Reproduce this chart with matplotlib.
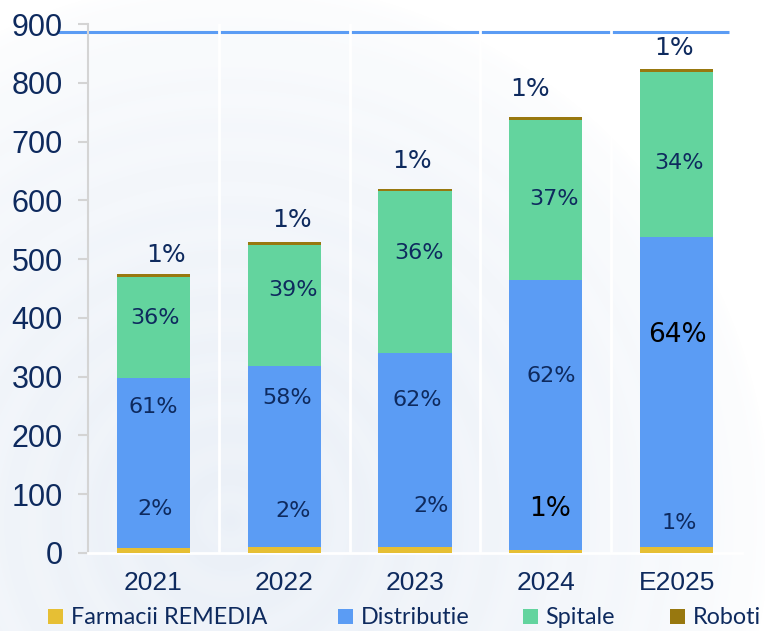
import numpy as np
import matplotlib
matplotlib.use("Agg")
import matplotlib.pyplot as plt
from matplotlib.patches import Patch

# ---------------- data ----------------
categories = ["2021", "2022", "2023", "2024", "E2025"]
farmacii = [8, 10, 10, 5, 10]
distributie = [290, 308, 331, 459, 527]
spitale = [171, 206, 275, 272, 281]
roboti = [5, 5, 3, 5, 5]
series_names = ["Farmacii REMEDIA", "Distributie", "Spitale", "Roboti"]

lbl_farm = ["2%", "2%", "2%", "1%", "1%"]
lbl_dist = ["61%", "58%", "62%", "62%", "64%"]
lbl_spit = ["36%", "39%", "36%", "37%", "34%"]
lbl_rob = ["1%", "1%", "1%", "1%", "1%"]
yticks = [0, 100, 200, 300, 400, 500, 600, 700, 800, 900]

# ---------------- layout ----------------
W, H = 765, 631
DPI = 100
col_yellow = "#E6BF34"
col_blue = "#5B9CF4"
col_green = "#63D49E"
col_brown = "#98780F"
navy = "#0E2A5E"

# label layout (x offset in category units, y in data units)
pos_rob = [(0.10, 507), (0.06, 566), (-0.02, 667), (-0.12, 789), (-0.02, 859)]
pos_spit = [(0.01, 400), (0.07, 447), (0.03, 510), (0.06, 602), (0.02, 663)]
pos_dist = [(0.00, 248), (0.02, 264), (0.02, 260), (0.04, 301), (0.01, 371)]
pos_farm = [(0.01, 75), (0.07, 71), (0.12, 80), (0.03, 75), (0.02, 51)]
black_dist = [False, False, False, False, True]
black_farm = [False, False, False, True, False]
legend_x_px = [48, 338, 523, 670]

fig = plt.figure(figsize=(W / DPI, H / DPI), dpi=DPI)
fig.patch.set_facecolor("white")

# background gradient
bg = fig.add_axes([0, 0, 1, 1], zorder=-10)
yy, xx = np.mgrid[0:H, 0:W]
r = np.hypot(xx - 230, yy - 520)
t = np.clip(1 - r / 540, 0, 1) ** 0.55
t = t * (0.85 + 0.15 * np.cos(r / 14.0) ** 2)
base = np.array([1.0, 1.0, 1.0])
tint = np.array([0.918, 0.940, 0.970])
img = base[None, None, :] * (1 - t[..., None]) + tint[None, None, :] * t[..., None]
bg.imshow(img, extent=[0, 1, 0, 1], aspect="auto", origin="upper")
bg.axis("off")

ax_l, ax_r, ax_t, ax_b = 88, 742, 24, 553
ax = fig.add_axes([ax_l / W, 1 - ax_b / H, (ax_r - ax_l) / W, (ax_b - ax_t) / H])
ax.set_facecolor("none")

# decoration line on top (crossed by the white separators)
line_y = 1 - (32 - ax_t) / (ax_b - ax_t)
ax.plot([(57 - ax_l) / (ax_r - ax_l), (729 - ax_l) / (ax_r - ax_l)],
        [line_y, line_y], transform=ax.transAxes, color="#5B9CF4", lw=2.2,
        clip_on=False, zorder=0.5, solid_capstyle="butt")

x = np.arange(len(categories))
bw = 0.56
b1 = np.array(farmacii)
b2 = b1 + np.array(distributie)
b3 = b2 + np.array(spitale)
ax.bar(x, farmacii, bw, color=col_yellow, zorder=3)
ax.bar(x, distributie, bw, bottom=b1, color=col_blue, zorder=3)
ax.bar(x, spitale, bw, bottom=b2, color=col_green, zorder=3)
ax.bar(x, roboti, bw, bottom=b3, color=col_brown, zorder=3)

ax.set_xlim(-0.5, len(categories) - 0.5)
ax.set_ylim(0, 900)
ax.set_yticks(yticks)
ax.set_xticks(x)
ax.set_xticklabels(categories)

# white vertical separators
for b in np.arange(0.5, len(categories) - 0.5, 1.0):
    ax.axvline(b, ymax=1 - (30 - ax_t) / (ax_b - ax_t) + 0.012,
               color="white", lw=2, zorder=1)

for s in ["top", "right"]:
    ax.spines[s].set_visible(False)
ax.spines["left"].set_color("#D4D4D4")
ax.spines["left"].set_linewidth(1.5)
ax.spines["bottom"].set_color("white")
ax.spines["bottom"].set_linewidth(2)

ax.tick_params(axis="y", colors="#D4D4D4", length=7, width=1.5, pad=11,
               labelcolor=navy, labelsize=22)
ax.tick_params(axis="x", length=0, pad=13, labelcolor=navy, labelsize=19)
for lab in ax.get_yticklabels() + ax.get_xticklabels():
    lab.set_fontfamily("Liberation Sans")

# percentage labels
fam = "DejaVu Sans"
small, big, top = 16, 19, 18
for i in range(len(categories)):
    dx, yv = pos_rob[i]
    ax.text(i + dx, yv, lbl_rob[i], ha="center", va="center", fontsize=top,
            color=navy, family=fam, zorder=5)
    dx, yv = pos_spit[i]
    ax.text(i + dx, yv, lbl_spit[i], ha="center", va="center", fontsize=small,
            color=navy, family=fam, zorder=5)
    dx, yv = pos_dist[i]
    ax.text(i + dx, yv, lbl_dist[i], ha="center", va="center",
            fontsize=big if black_dist[i] else small,
            color="black" if black_dist[i] else navy, family=fam, zorder=5)
    dx, yv = pos_farm[i]
    ax.text(i + dx, yv, lbl_farm[i], ha="center", va="center",
            fontsize=big if black_farm[i] else small,
            color="black" if black_farm[i] else navy, family=fam, zorder=5)

colors = [col_yellow, col_blue, col_green, col_brown]
for name, c, px in zip(series_names, colors, legend_x_px):
    leg = fig.legend([Patch(facecolor=c, edgecolor="none")], [name],
                     loc="center left", bbox_to_anchor=(px / W, 1 - 618 / H),
                     frameon=False, borderpad=0, borderaxespad=0,
                     prop={"family": "Lato", "size": 16.8},
                     handlelength=0.65, handleheight=0.65, handletextpad=0.32)
    for t_ in leg.get_texts():
        t_.set_color(navy)

fig.savefig("out.png", dpi=DPI)
